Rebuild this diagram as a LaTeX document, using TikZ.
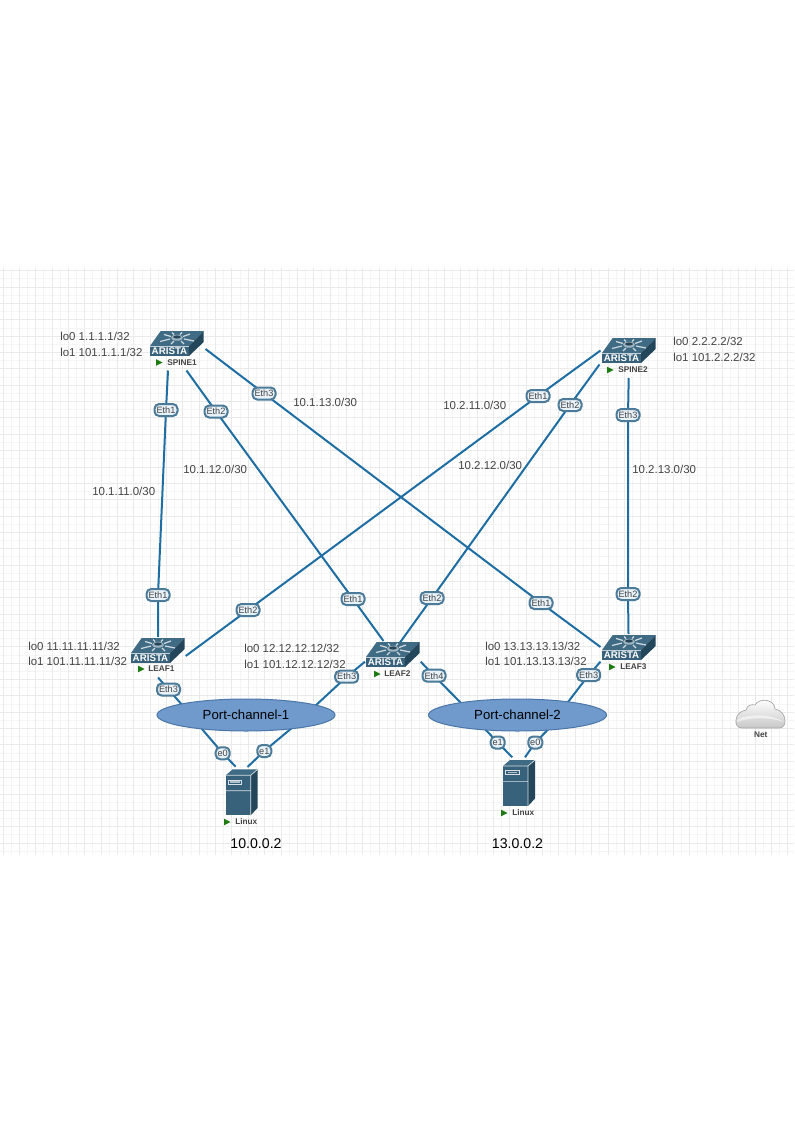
\documentclass[tikz,border=0pt]{standalone}
\usepackage{fontspec}
\setmainfont{Liberation Sans}
\usetikzlibrary{shapes.geometric}
\definecolor{linkblue}{HTML}{1F6EA3}
\definecolor{tagedge}{HTML}{4C7A99}
\definecolor{tagfill}{HTML}{E8F2F9}
\definecolor{topface}{HTML}{3F6B84}
\definecolor{frontface}{HTML}{38627B}
\definecolor{sideface}{HTML}{24465B}
\definecolor{pcfill}{HTML}{7099CC}
\definecolor{pcedge}{HTML}{4A76A8}
\definecolor{txtgray}{HTML}{444444}
\definecolor{gridmaj}{HTML}{EAEAEA}
\definecolor{gridmin}{HTML}{F5F5F5}
\definecolor{playgreen}{HTML}{1E7A12}
\pgfdeclarelayer{gridlayer}
\pgfdeclarelayer{linklayer}
\pgfsetlayers{gridlayer,linklayer,main}
\tikzset{
  x=0.75pt,y=-0.75pt,
  link/.style={draw=linkblue,line width=1.5pt},
  tag/.style={draw=tagedge,fill=tagfill,line width=1.5pt,rounded corners=3.5pt,inner sep=0pt,
    minimum height=9pt,minimum width=17.25pt,text=txtgray,font=\fontsize{6.9pt}{8pt}\selectfont},
  smalltag/.style={tag,minimum width=10.5pt,minimum height=9pt},
  addr/.style={anchor=west,inner sep=0pt,text=txtgray,font=\fontsize{8.6pt}{10pt}\selectfont},
  devname/.style={anchor=west,inner sep=0pt,text=txtgray,font=\fontsize{6.2pt}{8pt}\bfseries\selectfont},
  pcloud/.style={ellipse,draw=pcedge,fill=pcfill,line width=0.75pt,inner sep=0pt,
    minimum width=133.5pt,minimum height=24pt,font=\fontsize{9.9pt}{12pt}\selectfont,text=black},
  hostip/.style={inner sep=0pt,text=black,font=\fontsize{10.6pt}{12pt}\selectfont},
  devbox/.style={inner sep=0pt,minimum size=1pt},
  pics/switchicon/.style={code={
    \fill[topface] (0,15)--(10.7,0)--(53.7,0)--(39,15)--cycle;
    \fill[sideface] (39,15)--(53.7,0)--(53.7,11)--(39,25)--cycle;
    \fill[frontface] (0,15)--(39,15)--(39,25)--(0,25)--cycle;
    \draw[white!70!frontface,line width=0.4pt] (0,15)--(39,15);
    \draw[white!75!topface,line width=0.9pt]
      (21,5.5)--(14,3.5) (33,5.5)--(40,3) (20,8)--(10,10.5) (34,8)--(44,10)
      (24,3.5)--(22,1.5) (30,3.5)--(32,1.5) (24,10)--(21,13) (31,10)--(34,13);
    \fill[topface!50!white] (27,6.7) ellipse [x radius=6,y radius=3];
    \fill[frontface!70!black] (27,6) ellipse [x radius=4,y radius=1.6];
    \node[inner sep=0pt,text=white,font=\fontsize{7.3pt}{8pt}\bfseries\selectfont] at (19.5,20.3) {ARISTA};
  }},
  pics/servericon/.style={code={
    \fill[sideface] (25,6)--(32,0)--(32,38.5)--(25,46)--cycle;
    \fill[topface] (0,6)--(7,0)--(32,0)--(25,6)--cycle;
    \fill[frontface] (0,6)--(25,6)--(25,46)--(0,46)--cycle;
    \draw[white!80!frontface,line width=0.5pt] (0,6)--(25,6) (0,21.4)--(25,21.4) (25,6)--(25,46) (25,6)--(32,0);
    \draw[white!80!frontface,line width=0.5pt] (2.5,10.7) rectangle (16,14.7);
    \fill[white!60!frontface] (4.5,12) rectangle (14,13.4);
  }},
  pics/playicon/.style={code={\fill[playgreen] (0,-3.3)--(6.5,0)--(0,3.3)--cycle;}}
}
\begin{document}
\begin{tikzpicture}
\useasboundingbox (0,0) rectangle (794,1123);
% grid
\begin{pgfonlayer}{gridlayer}
\fill[white] (0,0) rectangle (794,1123);
\foreach \k in {-2,...,47} {
  \pgfmathsetmacro{\gx}{19.3+16.35*\k+8.17}
  \ifdim\gx pt>0pt \ifdim\gx pt<794pt \draw[gridmin,line width=0.6pt] (\gx,268)--(\gx,855);\fi\fi
}
\foreach \k in {-1,...,35} {
  \pgfmathsetmacro{\gy}{270.7+16.35*\k+8.17}
  \ifdim\gy pt>268pt \ifdim\gy pt<855pt \draw[gridmin,line width=0.6pt] (0,\gy)--(794,\gy);\fi\fi
}
\foreach \k in {-1,...,47} {
  \pgfmathsetmacro{\gx}{19.3+16.35*\k}
  \ifdim\gx pt>0pt \ifdim\gx pt<794pt \draw[gridmaj,line width=0.6pt] (\gx,268)--(\gx,855);\fi\fi
}
\foreach \k in {0,...,35} {
  \pgfmathsetmacro{\gy}{270.7+16.35*\k}
  \ifdim\gy pt<855pt \draw[gridmaj,line width=0.6pt] (0,\gy)--(794,\gy);\fi
}
\end{pgfonlayer}

% devices
\node[devbox] (spine1) at (177,343) {};
\pic at (150,331) {switchicon};
\pic at (156,362.5) {playicon};
\node[devname] (spine1name) at (167,362.5) {SPINE1};
\node[devbox] (spine2) at (629,350) {};
\pic at (602,338) {switchicon};
\pic at (607,370) {playicon};
\node[devname] (spine2name) at (618,370) {SPINE2};
\node[devbox] (leaf1) at (158,650) {};
\pic at (131,638) {switchicon};
\pic at (138,669) {playicon};
\node[devname] (leaf1name) at (148,669) {LEAF1};
\node[devbox] (leaf2) at (393,654) {};
\pic at (366,642) {switchicon};
\pic at (374,674) {playicon};
\node[devname] (leaf2name) at (384,674) {LEAF2};
\node[devbox] (leaf3) at (629,647) {};
\pic at (602,635) {switchicon};
\pic at (609,667) {playicon};
\node[devname] (leaf3name) at (620,667) {LEAF3};
\node[devbox] (linux1) at (241,792) {};
\pic at (225.7,769.3) {servericon};
\pic at (224,822) {playicon};
\node[devname] (linux1name) at (235,822) {Linux};
\node[devbox] (linux2) at (519,783) {};
\pic at (503,760) {servericon};
\pic at (501,813) {playicon};
\node[devname] (linux2name) at (512,813) {Linux};

% cloud
\shade[top color=white,bottom color=black!22,draw=black!35,line width=0.5pt]
  (742,728) .. controls (737,728) and (735.5,724) .. (736,720)
  .. controls (736.5,714) and (741,711) .. (746,710)
  .. controls (747,705) and (752,704) .. (755,705)
  .. controls (757,701) and (763,699.5) .. (767,700.5)
  .. controls (772,701.5) and (775,705) .. (775,709)
  .. controls (781,710) and (785,715) .. (785,721)
  .. controls (785,725) and (783,728) .. (779,728) -- cycle;
\fill[white,opacity=0.55]
  (737,720) .. controls (745,714) and (770,713) .. (784,722)
  .. controls (770,717) and (750,717) .. (737,722) -- cycle;
\node[devname,anchor=center] (net) at (760.7,735) {Net};

% port channels
\node[pcloud] (pc1) at (246,715) {Port-channel-1};
\node[pcloud] (pc2) at (517.5,715) {Port-channel-2};

% interface tags
\node[tag] (t1) at (166,410) {Eth1};
\node[tag] (t2) at (216,411.5) {Eth2};
\node[tag] (t3) at (264,393.5) {Eth3};
\node[tag] (t4) at (158,595) {Eth1};
\node[tag] (t5) at (353,599) {Eth1};
\node[tag] (t6) at (541,603) {Eth1};
\node[tag] (t7) at (538,396) {Eth1};
\node[tag] (t8) at (570,405) {Eth2};
\node[tag] (t9) at (628,415) {Eth3};
\node[tag] (t10) at (248,610) {Eth2};
\node[tag] (t11) at (432,598) {Eth2};
\node[tag] (t12) at (628,594) {Eth2};
\node[tag] (t13) at (168.5,689.5) {Eth3};
\node[tag] (t14) at (346.7,676.7) {Eth3};
\node[tag] (t15) at (434,675.7) {Eth4};
\node[tag] (t16) at (588.7,675) {Eth3};
\node[smalltag] (t17) at (222.7,753.3) {e0};
\node[smalltag] (t18) at (264.3,751) {e1};
\node[smalltag] (t19) at (497.7,742.5) {e1};
\node[smalltag] (t20) at (535.3,742.5) {e0};

% connector ends
\coordinate (s1a) at (168,370.5);
\coordinate (s1b) at (186.5,370.5);
\coordinate (s1c) at (205.5,349);
\coordinate (s2a) at (600.5,350.5);
\coordinate (s2b) at (599.5,364.5);
\coordinate (s2c) at (628.7,378);
\coordinate (l1a) at (158,637);
\coordinate (l1b) at (185.7,656);
\coordinate (l1c) at (158,677.5);
\coordinate (l2a) at (383.5,641);
\coordinate (l2b) at (400,642.5);
\coordinate (l2c) at (365,661.7);
\coordinate (l2d) at (420.7,661.7);
\coordinate (l3a) at (600.5,647);
\coordinate (l3b) at (628.5,634);
\coordinate (l3c) at (600.5,661.7);
\coordinate (h1a) at (235.7,766.7);
\coordinate (h1b) at (247.5,767);
\coordinate (h2a) at (512.3,757.3);
\coordinate (h2b) at (525,757.3);
% ends on the port-channel rims
\coordinate (p1a) at (183,706);
\coordinate (p1b) at (314,707);
\coordinate (p1c) at (200.7,727.5);
\coordinate (p1d) at (293,727);
\coordinate (p2a) at (463,705);
\coordinate (p2b) at (566.5,704);
\coordinate (p2c) at (484,728);
\coordinate (p2d) at (549.5,728);

\begin{pgfonlayer}{linklayer}
\draw[link] (s1a)--(t1.center)--(t4.center)--(l1a);
\draw[link] (s1b)--(t2.center)--(t5.center)--(l2a);
\draw[link] (s1c)--(t3.center)--(t6.center)--(l3a);
\draw[link] (s2a)--(t7.center)--(t10.center)--(l1b);
\draw[link] (s2b)--(t8.center)--(t11.center)--(l2b);
\draw[link] (s2c)--(t9.center)--(t12.center)--(l3b);
\draw[link] (l1c)--(t13.center)--(p1a);
\draw[link] (l2c)--(t14.center)--(p1b);
\draw[link] (l2d)--(t15.center)--(p2a);
\draw[link] (l3c)--(t16.center)--(p2b);
\draw[link] (p1c)--(t17.center)--(h1a);
\draw[link] (p1d)--(t18.center)--(h1b);
\draw[link] (p2c)--(t19.center)--(h2a);
\draw[link] (p2d)--(t20.center)--(h2b);
\end{pgfonlayer}

% addresses
\node[addr] (a1) at (60,336) {lo0 1.1.1.1/32};
\node[addr] (a2) at (60,352) {lo1 101.1.1.1/32};
\node[addr] (a3) at (673,341) {lo0 2.2.2.2/32};
\node[addr] (a4) at (673,357) {lo1 101.2.2.2/32};
\node[addr] (a5) at (28,646) {lo0 11.11.11.11/32};
\node[addr] (a6) at (28,661) {lo1 101.11.11.11/32};
\node[addr] (a7) at (244,648) {lo0 12.12.12.12/32};
\node[addr] (a8) at (244,664) {lo1 101.12.12.12/32};
\node[addr] (a9) at (485,646) {lo0 13.13.13.13/32};
\node[addr] (a10) at (485,661.5) {lo1 101.13.13.13/32};
\node[addr] (n1) at (92,491) {10.1.11.0/30};
\node[addr] (n2) at (183,469) {10.1.12.0/30};
\node[addr] (n3) at (293,402.5) {10.1.13.0/30};
\node[addr] (n4) at (443,405) {10.2.11.0/30};
\node[addr] (n5) at (458,465) {10.2.12.0/30};
\node[addr] (n6) at (632,469) {10.2.13.0/30};
\node[hostip] (ip1) at (256,844) {10.0.0.2};
\node[hostip] (ip2) at (517.5,844) {13.0.0.2};
\end{tikzpicture}
\end{document}
